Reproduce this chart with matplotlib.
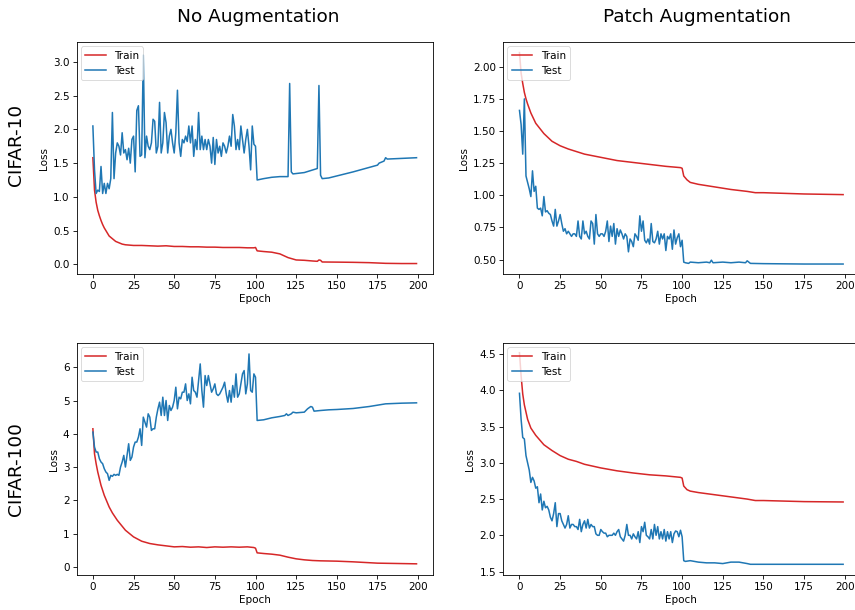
import matplotlib
matplotlib.use("Agg")
import matplotlib.pyplot as plt

# ---------------- data ----------------
dense_epochs = list(range(0, 102))

# CIFAR-10, no augmentation
c10_none_train_epochs = [0, 1, 2, 3, 4, 5, 6, 7, 8, 9, 10, 12, 14, 16, 18, 20,
                         25, 30, 35, 40, 45, 50, 55, 60, 65, 70, 75, 80, 85, 90, 95,
                         99, 100, 101, 105, 110, 115, 120, 125, 130, 135,
                         138, 139, 140, 141, 150, 160, 170, 180, 190, 199]
c10_none_train_loss = [1.58, 1.10, 0.92, 0.80, 0.72, 0.65, 0.59, 0.54, 0.50, 0.46, 0.42,
                       0.38, 0.34, 0.32, 0.30, 0.29,
                       0.28, 0.28, 0.275, 0.27, 0.275, 0.265, 0.265, 0.26, 0.26, 0.255,
                       0.255, 0.25, 0.25, 0.25, 0.245,
                       0.245, 0.25, 0.20, 0.19, 0.18, 0.155, 0.10, 0.065, 0.06, 0.05,
                       0.045, 0.065, 0.06, 0.035, 0.033, 0.03, 0.025, 0.015, 0.012, 0.012]
c10_none_test_head = [2.05, 1.40, 1.05, 1.10, 1.08, 1.45, 1.05, 1.20, 1.05, 1.20,
                      1.12, 1.27, 2.25, 1.27, 1.65, 1.80, 1.75, 1.62, 1.95, 1.65,
                      1.70, 1.55, 1.72, 1.50, 1.85, 1.90, 1.37, 2.28, 2.35, 1.60,
                      1.62, 3.10, 1.58, 1.90, 1.75, 1.70, 1.80, 2.15, 2.12, 1.65,
                      1.75, 2.40, 1.65, 1.80, 2.25, 2.10, 1.65, 1.90, 2.00, 1.80,
                      1.65, 1.95, 2.58, 1.80, 1.60, 1.85, 1.80, 1.90, 1.82, 2.05,
                      1.80, 2.05, 1.60, 1.85, 1.70, 2.25, 1.70, 1.90, 1.70, 1.85,
                      1.70, 1.85, 1.75, 1.50, 1.88, 1.48, 1.85, 1.65, 1.75, 1.60,
                      1.80, 1.75, 1.65, 1.75, 1.90, 1.75, 2.22, 2.05, 1.70, 1.85,
                      1.70, 2.05, 1.85, 1.65, 1.85, 2.00, 1.75, 1.40, 2.05, 1.78,
                      1.75, 1.25]
c10_none_test_tail_epochs = [105, 110, 115, 120, 121, 122, 123, 130, 138, 139, 140, 141,
                             145, 160, 175, 176, 179, 180, 181, 190, 199]
c10_none_test_tail = [1.27, 1.29, 1.30, 1.30, 2.68, 1.37, 1.34, 1.36, 1.42, 2.65, 1.32, 1.27,
                      1.28, 1.37, 1.47, 1.50, 1.53, 1.58, 1.56, 1.57, 1.58]

# CIFAR-10, patch augmentation
c10_patch_train_epochs = [0, 1, 2, 3, 4, 5, 7, 10, 15, 20, 25, 30, 35, 40,
                          50, 60, 70, 80, 90, 99, 100, 101, 103, 105, 110,
                          120, 130, 140, 145, 150, 175, 199]
c10_patch_train_loss = [2.11, 1.95, 1.87, 1.80, 1.75, 1.71, 1.64, 1.56, 1.48, 1.42, 1.385,
                        1.36, 1.34, 1.32, 1.295, 1.27, 1.255, 1.24, 1.225, 1.215, 1.21,
                        1.15, 1.12, 1.10, 1.085, 1.065, 1.045, 1.03, 1.02, 1.02, 1.01, 1.005]
c10_patch_test_head = [1.66, 1.55, 1.32, 1.75, 1.15, 1.10, 1.05, 0.99, 1.19, 1.03,
                       1.07, 0.90, 0.89, 0.90, 0.84, 0.99, 0.87, 0.88, 0.86, 0.85,
                       0.80, 0.76, 0.89, 0.76, 0.80, 0.85, 0.78, 0.72, 0.74, 0.70,
                       0.72, 0.70, 0.68, 0.70, 0.70, 0.68, 0.80, 0.68, 0.66, 0.80,
                       0.70, 0.72, 0.68, 0.66, 0.80, 0.78, 0.62, 0.85, 0.70, 0.68,
                       0.70, 0.70, 0.68, 0.72, 0.80, 0.64, 0.76, 0.68, 0.78, 0.62,
                       0.74, 0.68, 0.73, 0.70, 0.66, 0.70, 0.68, 0.56, 0.66, 0.64,
                       0.60, 0.70, 0.68, 0.65, 0.84, 0.72, 0.80, 0.65, 0.63, 0.66,
                       0.62, 0.78, 0.64, 0.63, 0.66, 0.72, 0.62, 0.70, 0.66, 0.70,
                       0.57, 0.68, 0.66, 0.70, 0.58, 0.73, 0.62, 0.67, 0.70, 0.60,
                       0.65, 0.48]
c10_patch_test_tail_epochs = [102, 104, 105, 110, 115, 117, 118, 119, 125, 130, 135,
                              139, 140, 142, 150, 175, 199]
c10_patch_test_tail = [0.475, 0.47, 0.48, 0.475, 0.48, 0.475, 0.495, 0.475, 0.48, 0.475,
                       0.48, 0.475, 0.49, 0.47, 0.468, 0.465, 0.465]

# CIFAR-100, no augmentation
c100_none_train_epochs = [0, 1, 2, 3, 4, 5, 7, 10, 12, 15, 20,
                          25, 30, 35, 40, 45, 50, 55, 60, 65, 70, 75, 80, 85, 90, 95,
                          99, 100, 101, 105, 110, 115, 120, 125, 130, 135, 140,
                          150, 160, 175, 199]
c100_none_train_loss = [4.15, 3.40, 3.10, 2.85, 2.65, 2.45, 2.15, 1.80, 1.62, 1.40, 1.10,
                        0.90, 0.77, 0.70, 0.66, 0.63, 0.60, 0.61, 0.59, 0.60, 0.58, 0.60,
                        0.59, 0.60, 0.59, 0.60,
                        0.58, 0.56, 0.42, 0.40, 0.38, 0.35, 0.29, 0.24, 0.21, 0.19, 0.18,
                        0.17, 0.15, 0.11, 0.09]
c100_none_test_head = [4.05, 3.60, 3.45, 3.45, 3.25, 3.15, 3.10, 2.95, 2.85, 2.80,
                       2.60, 2.75, 2.72, 2.78, 2.75, 2.78, 2.75, 3.00, 3.15, 3.35,
                       3.00, 3.35, 3.70, 3.20, 3.30, 3.60, 3.75, 3.75, 3.90, 4.15,
                       3.65, 4.50, 4.35, 4.20, 4.60, 4.50, 4.10, 4.15, 4.15, 4.50,
                       4.75, 4.95, 4.55, 5.10, 4.55, 5.00, 4.40, 4.85, 4.70, 4.80,
                       5.00, 5.40, 4.75, 5.10, 5.05, 5.25, 5.25, 5.50, 5.00, 5.20,
                       4.90, 5.70, 5.30, 5.25, 5.10, 5.60, 6.10, 5.30, 4.80, 5.75,
                       5.45, 5.75, 5.50, 5.25, 5.35, 5.50, 5.20, 5.15, 5.20, 5.30,
                       5.40, 5.55, 5.20, 4.95, 5.30, 4.95, 5.45, 5.10, 5.80, 5.10,
                       5.20, 5.50, 5.80, 5.90, 5.20, 5.50, 6.40, 5.30, 5.25, 5.80,
                       5.70, 4.40]
c100_none_test_tail_epochs = [105, 110, 115, 118, 119, 120, 122, 123, 125, 130, 132, 134,
                              135, 136, 140, 145, 150, 160, 170, 180, 190, 199]
c100_none_test_tail = [4.42, 4.48, 4.52, 4.55, 4.60, 4.55, 4.60, 4.65, 4.63, 4.65, 4.75,
                       4.82, 4.80, 4.68, 4.70, 4.72, 4.73, 4.76, 4.82, 4.90, 4.92, 4.93]

# CIFAR-100, patch augmentation
c100_patch_train_epochs = [0, 1, 2, 3, 5, 7, 10, 15, 20, 25, 30, 35, 40,
                           50, 60, 70, 80, 90, 99, 100, 101, 103, 105, 110,
                           120, 130, 140, 145, 150, 175, 199]
c100_patch_train_loss = [4.52, 4.20, 3.95, 3.80, 3.60, 3.48, 3.38, 3.25, 3.17, 3.10, 3.05,
                         3.02, 2.98, 2.93, 2.89, 2.86, 2.835, 2.82, 2.80, 2.79, 2.68, 2.63,
                         2.61, 2.59, 2.56, 2.53, 2.50, 2.48, 2.48, 2.465, 2.46]
c100_patch_test_head = [3.96, 3.60, 3.35, 3.33, 3.10, 3.00, 2.90, 2.73, 2.80, 2.75,
                        2.65, 2.67, 2.45, 2.57, 2.35, 2.47, 2.38, 2.40, 2.35, 2.25,
                        2.20, 2.30, 2.45, 2.12, 2.30, 2.30, 2.20, 2.15, 2.10, 2.15,
                        2.27, 2.10, 2.15, 2.15, 2.12, 2.12, 2.08, 2.22, 2.05, 2.15,
                        2.20, 2.10, 2.22, 2.10, 2.15, 2.12, 2.12, 2.02, 2.00, 2.00,
                        2.08, 2.05, 2.03, 2.03, 1.98, 2.00, 2.00, 2.00, 2.03, 2.00,
                        2.05, 2.08, 1.98, 1.95, 1.92, 2.00, 2.15, 2.00, 2.00, 1.95,
                        2.02, 1.98, 1.95, 2.05, 1.90, 2.12, 2.05, 2.18, 2.00, 1.98,
                        1.95, 2.08, 1.95, 2.15, 2.00, 2.12, 1.95, 2.05, 1.95, 2.08,
                        1.92, 2.05, 1.95, 2.05, 1.90, 2.02, 2.06, 2.05, 1.98, 2.07,
                        1.98, 1.65]
c100_patch_test_tail_epochs = [102, 105, 110, 115, 120, 125, 130, 135, 140, 142, 150, 175, 199]
c100_patch_test_tail = [1.64, 1.65, 1.63, 1.62, 1.62, 1.61, 1.63, 1.63, 1.61, 1.60,
                        1.60, 1.60, 1.60]

col_titles = ["No Augmentation", "Patch Augmentation"]
row_titles = ["CIFAR-10", "CIFAR-100"]
xticks = [0, 25, 50, 75, 100, 125, 150, 175, 200]

panels = [
    [(c10_none_train_epochs, c10_none_train_loss,
      dense_epochs + c10_none_test_tail_epochs, c10_none_test_head + c10_none_test_tail,
      (-0.14, 3.29)),
     (c10_patch_train_epochs, c10_patch_train_loss,
      dense_epochs + c10_patch_test_tail_epochs, c10_patch_test_head + c10_patch_test_tail,
      (0.389, 2.19))],
    [(c100_none_train_epochs, c100_none_train_loss,
      dense_epochs + c100_none_test_tail_epochs, c100_none_test_head + c100_none_test_tail,
      (-0.24, 6.72)),
     (c100_patch_train_epochs, c100_patch_train_loss,
      dense_epochs + c100_patch_test_tail_epochs, c100_patch_test_head + c100_patch_test_tail,
      (1.455, 4.65))],
]

# ---------------- figure ----------------
W, H = 855, 610
fig = plt.figure(figsize=(W / 100, H / 100), dpi=100)

ax_left = [76.7, 503.3]
ax_top = [42.3, 343.3]
ax_w, ax_h = 356.0, 231.5

FS = 7.5
for r in range(2):
    for c in range(2):
        tr_e, tr_l, te_e, te_l, ylim = panels[r][c]
        assert len(tr_e) == len(tr_l) and len(te_e) == len(te_l)
        ax = fig.add_axes([ax_left[c] / W, 1 - (ax_top[r] + ax_h) / H, ax_w / W, ax_h / H])
        ax.plot(tr_e, tr_l, color="#d62728", lw=1.1, label="Train")
        ax.plot(te_e, te_l, color="#1f77b4", lw=1.1, label="Test")
        ax.set_xlim(-9.95, 208.95)
        ax.set_ylim(*ylim)
        ax.set_xticks(xticks)
        ax.set_xlabel("Epoch", fontsize=FS, labelpad=2)
        ax.set_ylabel("Loss", fontsize=FS, labelpad=3)
        ax.tick_params(labelsize=FS, length=2.6, width=0.6, pad=2.6)
        for s in ax.spines.values():
            s.set_linewidth(0.6)
        leg = ax.legend(loc="upper left", fontsize=FS, framealpha=0.8,
                        borderaxespad=0.4, handlelength=2.0)
        leg.get_frame().set_linewidth(0.6)

fig.text(258 / W, 1 - 17.5 / H, col_titles[0], fontsize=13.3, ha="center", va="center")
fig.text(697 / W, 1 - 17.5 / H, col_titles[1], fontsize=13.3, ha="center", va="center")
fig.text(16 / W, 1 - 145 / H, row_titles[0], fontsize=13.3, ha="center", va="center",
         rotation=90)
fig.text(16 / W, 1 - 469 / H, row_titles[1], fontsize=13.3, ha="center", va="center",
         rotation=90)

fig.savefig("out.png", dpi=100)
